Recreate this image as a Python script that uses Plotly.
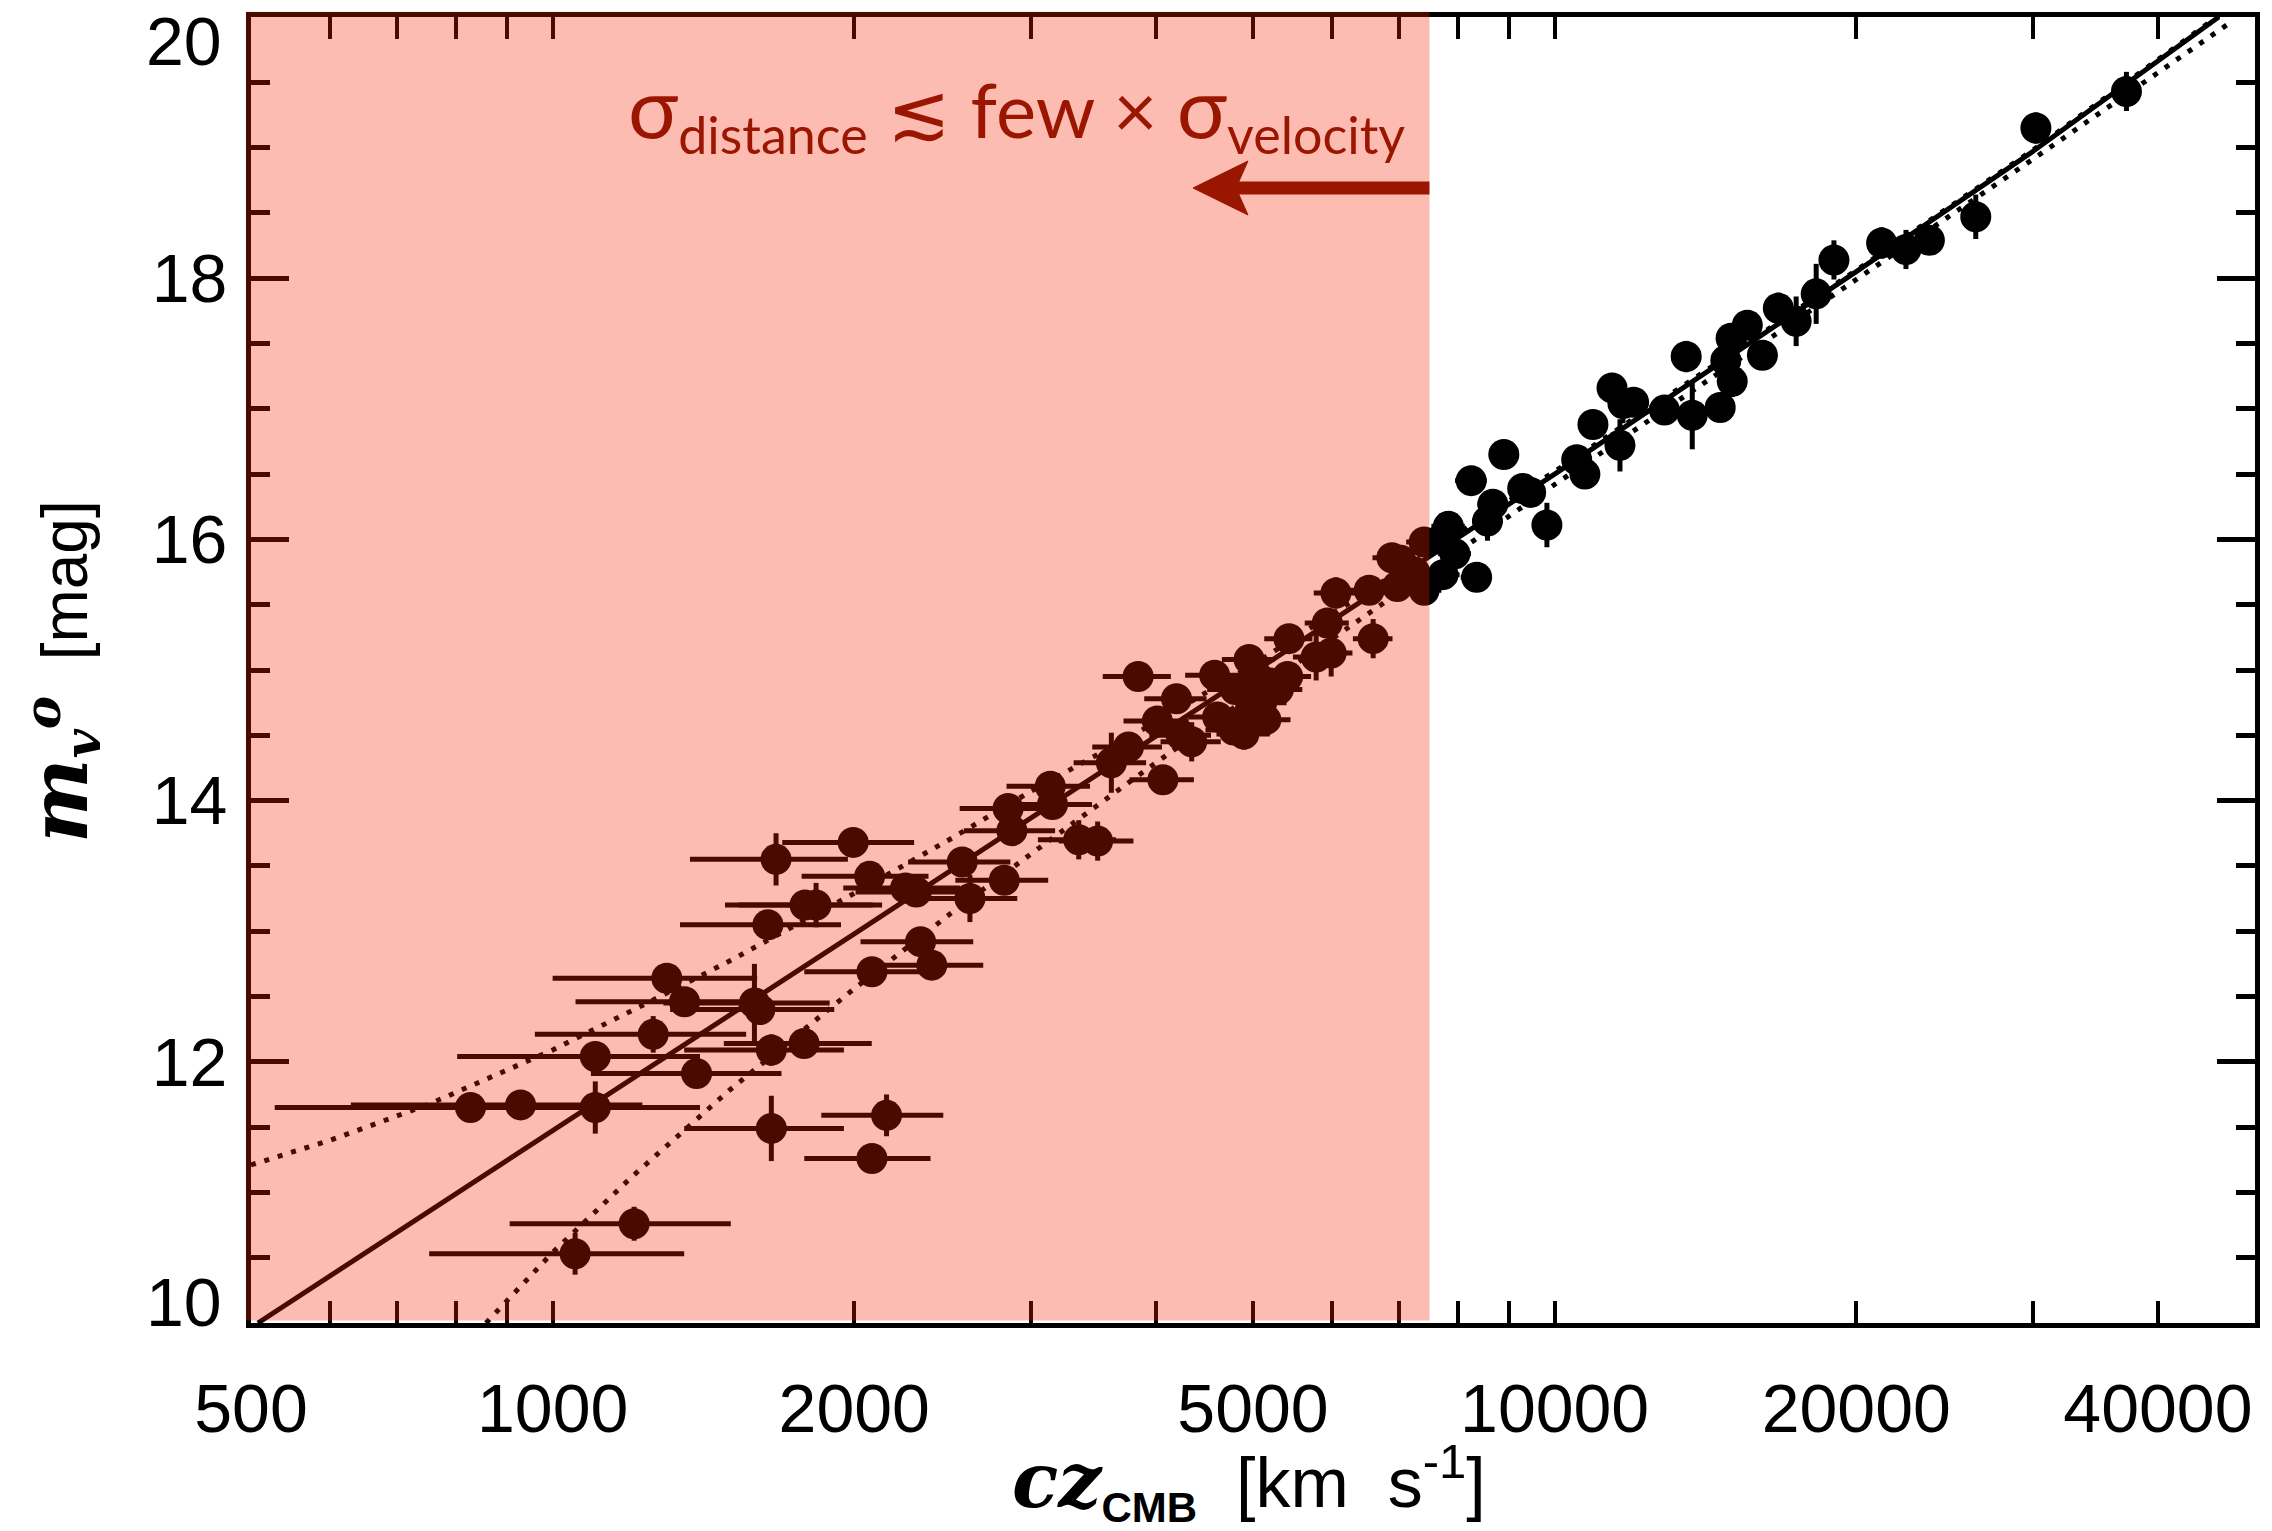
import math
import plotly.graph_objects as go

# ---------------- data ----------------
# low-velocity SNe (inside the shaded region)
cz_low = [828, 929, 1103, 1103, 1053, 1206, 1260, 1300, 1354, 1392,
          1590, 1610, 1653, 1782, 1653, 2154, 2083, 1671, 1995, 2072,
          1786, 1832, 1640, 2306, 2250, 2329, 2390, 2083, 2609, 2823,
          2563, 2848, 2873, 3138, 3154, 3350, 3499, 3611, 3756, 3840,
          4065, 4013, 4194, 4343, 4240, 4578, 4955, 4955, 4783, 4610,
          4897, 5100, 5200, 5050, 5300, 5150, 4800, 5414, 5431, 5931,
          6590, 5781, 5984, 6049, 6530, 6966, 7022, 7409, 7409, 7250,
          6880, 7200]
m_low = [11.65, 11.67, 11.65, 12.04, 10.53, 10.76, 12.21, 12.64, 12.46, 11.91,
         12.45, 12.40, 12.09, 12.14, 11.49, 11.59, 11.26, 13.55, 13.68, 13.42,
         13.20, 13.20, 13.05, 13.30, 13.33, 12.92, 12.74, 12.69, 13.25, 13.39,
         13.53, 13.94, 13.77, 14.11, 13.97, 13.70, 13.69, 14.29, 14.41, 14.95,
         14.16, 14.61, 14.78, 14.45, 14.50, 14.96, 15.08, 14.67, 14.54, 14.64,
         14.51, 14.75, 14.90, 14.95, 14.85, 14.62, 14.85, 14.95, 15.24, 15.36,
         15.24, 15.10, 15.13, 15.59, 15.61, 15.64, 15.84, 15.98, 15.61, 15.75,
         15.86, 15.69]
dm_low = [0.08, 0.08, 0.20, 0.08, 0.16, 0.13, 0.14, 0.10, 0.10, 0.10,
          0.30, 0.08, 0.12, 0.08, 0.25, 0.16, 0.08, 0.20, 0.08, 0.08,
          0.08, 0.17, 0.08, 0.08, 0.08, 0.08, 0.10, 0.10, 0.18, 0.08,
          0.08, 0.08, 0.08, 0.08, 0.08, 0.15, 0.15, 0.23, 0.08, 0.10,
          0.08, 0.08, 0.08, 0.15, 0.08, 0.08, 0.08, 0.10, 0.10, 0.08,
          0.12, 0.10, 0.08, 0.08, 0.10, 0.12, 0.08, 0.08, 0.08, 0.08,
          0.15, 0.18, 0.18, 0.12, 0.10, 0.08, 0.08, 0.10, 0.10, 0.08,
          0.08, 0.08]

# higher-velocity SNe
cz_high = [37210, 30220, 26320, 23660, 22420, 21200, 19000, 18240, 17420, 16720,
           16120, 15570, 15000, 14820, 15040, 14630, 13530, 13720, 12870, 11990,
           11410, 11700, 10920, 11620, 10520, 10720, 8898, 8255, 9292, 9463,
           9824, 8676, 8570, 7834, 7952, 7737, 8359, 7700]
m_high = [19.43, 19.15, 18.47, 18.29, 18.22, 18.27, 18.14, 17.88, 17.67, 17.77,
          17.41, 17.64, 17.54, 17.37, 17.21, 17.01, 17.40, 16.95, 16.99, 17.05,
          17.16, 17.04, 16.88, 16.72, 16.61, 16.50, 16.65, 16.45, 16.39, 16.36,
          16.11, 16.27, 16.14, 16.10, 15.89, 15.73, 15.71, 16.00]
dm_high = [0.15, 0.12, 0.17, 0.08, 0.15, 0.12, 0.15, 0.23, 0.19, 0.12,
           0.08, 0.08, 0.08, 0.10, 0.12, 0.08, 0.12, 0.26, 0.10, 0.08,
           0.10, 0.15, 0.10, 0.20, 0.08, 0.10, 0.08, 0.08, 0.08, 0.08,
           0.17, 0.10, 0.15, 0.08, 0.10, 0.08, 0.08, 0.08]

# peculiar-velocity error on cz (km/s)
v_err = 300

# Hubble-line model curves (sampled from the figure)
solid_cz = [508, 1000, 2000, 5000, 10000, 20000, 30000, 46000]
solid_m = [10.0, 11.47, 12.98, 14.98, 16.50, 18.05, 18.97, 20.0]
upper_cz = [500, 600, 750, 1000, 1250, 1500, 2000, 2500, 3000, 4000, 5000, 7500,
            10000, 20000, 30000, 46000]
upper_m = [11.21, 11.40, 11.67, 12.09, 12.46, 12.77, 13.29, 13.71, 14.07, 14.60,
           15.04, 15.90, 16.52, 18.06, 18.98, 20.01]
lower_cz = [858, 925, 1000, 1200, 1500, 2000, 2500, 3000, 4000, 5500, 7500,
            10000, 20000, 30000, 47500]
lower_m = [10.0, 10.27, 10.54, 11.12, 11.78, 12.56, 13.14, 13.59, 14.29, 15.04,
           15.76, 16.42, 17.99, 18.91, 19.97]

# axes
x_min, x_max = 500, 50000
y_min, y_max = 10, 20
shade_limit = 7500  # km/s
x_labelled = [500, 1000, 2000, 5000, 10000, 20000, 40000]
x_minor = [600, 700, 800, 900, 3000, 4000, 6000, 7000, 8000, 9000, 30000]
y_inner_ticks = [12, 14, 16, 18]
y_edge_labels = [10, 20]

# ---------------- figure ----------------
INK = "black"
fig = go.Figure()

line_common = dict(mode="lines", hoverinfo="skip", showlegend=False)
fig.add_trace(go.Scatter(x=upper_cz, y=upper_m, line=dict(color=INK, width=5, dash="5px,9px"), **line_common))
fig.add_trace(go.Scatter(x=lower_cz, y=lower_m, line=dict(color=INK, width=5, dash="5px,9px"), **line_common))
fig.add_trace(go.Scatter(x=solid_cz, y=solid_m, line=dict(color=INK, width=5), **line_common))

cz_all = cz_low + cz_high
m_all = m_low + m_high
dm_all = dm_low + dm_high
fig.add_trace(go.Scatter(
    x=cz_all, y=m_all, mode="markers", showlegend=False,
    marker=dict(size=31, color=INK, line=dict(width=0)),
    error_x=dict(type="data", array=[v_err] * len(cz_all), color=INK, thickness=5, width=0),
    error_y=dict(type="data", array=dm_all, color=INK, thickness=5, width=0),
))

lx0, lx1 = math.log10(x_min), math.log10(x_max)
shade_frac = (math.log10(shade_limit) - lx0) / (lx1 - lx0)


def px_to_paper_x(px):
    return (px - 251) / 2004.0


def px_to_paper_y(py):
    return (1323 - py) / 1306.0


# translucent red overlay on the low-velocity region
fig.add_shape(type="rect", xref="paper", yref="paper",
              x0=-0.0025, x1=shade_frac, y0=0.002, y1=1.004,
              fillcolor="rgba(247,33,0,0.30)", line=dict(width=0), layer="above")

# arrow pointing into the shaded region (shaft + notched head)
RED = "#9B1600"
edge_px = 251 + 2004 * shade_frac
fig.add_shape(type="line", xref="paper", yref="paper",
              x0=px_to_paper_x(1234), x1=shade_frac,
              y0=px_to_paper_y(188), y1=px_to_paper_y(188),
              line=dict(color=RED, width=13), layer="above")
head = [(1193, 188), (1248, 161), (1236, 188), (1248, 215)]
path = "M " + " L ".join(f"{px_to_paper_x(a):.5f},{px_to_paper_y(b):.5f}" for a, b in head) + " Z"
fig.add_shape(type="path", xref="paper", yref="paper", path=path,
              fillcolor=RED, line=dict(color=RED, width=1), layer="above")

FONT = "Liberation Sans"
fig.update_layout(
    width=2272, height=1531,
    margin=dict(l=251, r=17, t=17, b=208),
    paper_bgcolor="white", plot_bgcolor="white",
    showlegend=False,
    font=dict(family=FONT, color="black", size=68),
)
fig.update_xaxes(
    type="log", range=[lx0, lx1],
    tickvals=x_labelled,
    ticktext=[str(v) for v in x_labelled],
    ticks="inside", ticklen=22, tickwidth=4, tickcolor=INK,
    minor=dict(tickvals=x_minor, ticks="inside", ticklen=22, tickwidth=4, tickcolor=INK),
    showline=True, linewidth=5, linecolor=INK, mirror="ticks",
    showgrid=False, zeroline=False,
    tickfont=dict(family=FONT, size=68, color="black"),
    ticklabelstandoff=22,
)
fig.update_yaxes(
    range=[y_min, y_max],
    tickvals=y_inner_ticks,
    ticks="inside", ticklen=38, tickwidth=5, tickcolor=INK,
    minor=dict(tick0=10, dtick=0.5, ticks="inside", ticklen=19, tickwidth=5, tickcolor=INK),
    showline=True, linewidth=5, linecolor=INK, mirror="ticks",
    showgrid=False, zeroline=False,
    tickfont=dict(family=FONT, size=68, color="black"),
    ticklabelstandoff=5,
)

# end labels of the magnitude axis (pulled inside the frame, as in the reference)
for val, ypx in zip(y_edge_labels, [1302, 41]):
    fig.add_annotation(xref="paper", yref="paper", x=px_to_paper_x(224), y=px_to_paper_y(ypx),
                       xanchor="right", yanchor="middle", showarrow=False, text=str(val),
                       font=dict(family=FONT, size=68, color="black"))

SERIF_BI = "font-family:'DejaVu Serif';font-weight:bold;font-style:italic"
NB = "\u00a0"

# axis titles
fig.add_annotation(
    xref="paper", yref="paper", x=px_to_paper_x(1249), y=px_to_paper_y(1482),
    xanchor="center", yanchor="middle", showarrow=False,
    text=(f"<span style=\"{SERIF_BI};font-size:76px\">cz</span>"
          "<sub><span style=\"font-size:42px\"><b>CMB</b></span></sub>"
          f"{NB}{NB}[km{NB}{NB}s<sup>-1</sup>]"),
    font=dict(family=FONT, size=70, color="black"),
)
fig.add_annotation(
    xref="paper", yref="paper", x=px_to_paper_x(62), y=px_to_paper_y(672),
    xanchor="center", yanchor="middle", showarrow=False, textangle=-90,
    text=(f"<span style=\"{SERIF_BI};font-size:80px\">m</span>"
          f"<sub><span style=\"{SERIF_BI};font-size:50px\">v</span></sub>"
          f"<sup><span style=\"{SERIF_BI};font-size:50px\">o</span></sup>"
          f"{NB}{NB}[mag]"),
    font=dict(family=FONT, size=64, color="black"),
)

# region label
fig.add_annotation(
    xref="paper", yref="paper", x=px_to_paper_x(1407), y=px_to_paper_y(110),
    xanchor="right", yanchor="middle", showarrow=False,
    text=("<span style=\"font-size:84px\">σ</span><sub><span style=\"font-size:52px\">distance</span></sub>"
          " ≲ few × "
          "<span style=\"font-size:84px\">σ</span><sub><span style=\"font-size:52px\">velocity</span></sub>"),
    font=dict(family="Lato", size=76, color=RED),
)

fig.write_html("out.html")
